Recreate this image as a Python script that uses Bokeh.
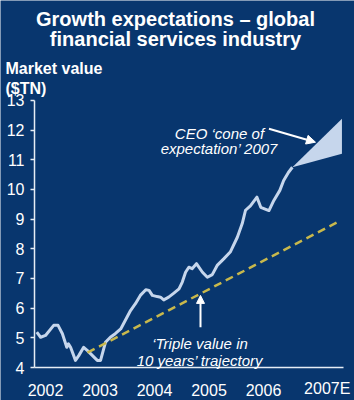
from bokeh.plotting import figure
from bokeh.models import Range1d, FixedTicker, Label, Arrow, NormalHead, LinearAxis
from bokeh.embed import file_html
from bokeh.resources import INLINE

# ---- data ----
years = [2001.84, 2001.91, 2002.00, 2002.15, 2002.23, 2002.31, 2002.39, 2002.42, 2002.46,
         2002.55, 2002.61, 2002.70, 2002.77, 2002.83, 2002.95, 2003.01, 2003.10, 2003.19,
         2003.28, 2003.38, 2003.47, 2003.56, 2003.65, 2003.74, 2003.84, 2003.90, 2003.96,
         2004.05, 2004.11, 2004.17, 2004.26, 2004.35, 2004.45, 2004.51, 2004.57, 2004.63,
         2004.69, 2004.77, 2004.88, 2004.97, 2005.06, 2005.15, 2005.27, 2005.39, 2005.52,
         2005.61, 2005.67, 2005.76, 2005.88, 2005.95, 2006.10, 2006.19, 2006.30, 2006.37,
         2006.46, 2006.53]
market_value = [5.19, 5.02, 5.08, 5.42, 5.42, 5.14, 4.68, 4.80, 4.68,
                4.24, 4.40, 4.68, 4.57, 4.46, 4.24, 4.24, 4.85, 5.02,
                5.14, 5.30, 5.61, 5.92, 6.15, 6.43, 6.62, 6.60, 6.43,
                6.39, 6.37, 6.28, 6.37, 6.50, 6.65, 6.88, 7.21, 7.38,
                7.33, 7.50, 7.21, 7.04, 7.13, 7.44, 7.66, 7.89, 8.39,
                8.85, 9.30, 9.45, 9.74, 9.40, 9.29, 9.63, 9.97, 10.30,
                10.58, 10.75]

cone_years = [2006.53, 2007.44]
cone_upper = [10.75, 12.38]
cone_lower = [10.75, 11.20]

triple_years = [2002.77, 2007.41]
triple_value = [4.50, 8.95]

tick_years = [2002, 2003, 2004, 2005, 2006]
tick_labels = ["2002", "2003", "2004", "2005", "2006"]
last_label = "2007E"
last_label_year = 2007.17
y_ticks = list(range(4, 14))

X_AXIS_START, X_AXIS_END = 2001.798, 2007.468
Y_AXIS_START, Y_AXIS_END = 4, 13

BG = "#08366e"
LINE = "#c6d6ec"
DASH = "#c8b84c"
WHITE = "#ffffff"
AX = "#e6edf5"
FONT = "Liberation Sans"

# the frame covers the whole canvas; the axes are pinned inside it
p = figure(width=354, height=400, output_backend="svg", toolbar_location=None,
           x_range=Range1d(2001.174, 2007.670), y_range=Range1d(2.888, 16.369),
           x_axis_location=None, y_axis_location=None,
           min_border=0)
p.background_fill_color = BG
p.border_fill_color = BG
p.outline_line_color = None
p.grid.visible = False

xaxis = LinearAxis(fixed_location=Y_AXIS_START, bounds=(X_AXIS_START, X_AXIS_END),
                   ticker=FixedTicker(ticks=tick_years),
                   major_label_overrides={t: l for t, l in zip(tick_years, tick_labels)},
                   major_tick_line_color=None, minor_tick_line_color=None,
                   axis_line_color=AX, axis_line_width=1.5,
                   major_label_standoff=10, major_label_text_font=FONT,
                   major_label_text_font_size="16px", major_label_text_color=WHITE)
yaxis = LinearAxis(fixed_location=X_AXIS_START, bounds=(Y_AXIS_START, Y_AXIS_END),
                   ticker=FixedTicker(ticks=y_ticks),
                   major_tick_in=0, major_tick_out=4, major_tick_line_color=AX,
                   major_tick_line_width=1.5, minor_tick_line_color=None,
                   axis_line_color=AX, axis_line_width=1.5,
                   major_label_standoff=6, major_label_text_font=FONT,
                   major_label_text_font_size="16px", major_label_text_color=WHITE)
p.add_layout(xaxis, "below")
p.add_layout(yaxis, "left")

# glyphs
p.varea(x=cone_years, y1=cone_lower, y2=cone_upper, fill_color=LINE)
p.line(years, market_value, line_color=LINE, line_width=3, line_join="round")
p.line(triple_years, triple_value, line_color=DASH, line_width=2.5, line_dash="8 5")

# texts
def lab(x, y, text, size, style="normal", align="center", baseline="alphabetic"):
    p.add_layout(Label(x=x, y=y, text=text, text_font=FONT, text_font_size=size,
                       text_font_style=style, text_color=WHITE, text_align=align,
                       text_baseline=baseline))

lab(2004.385, 15.73, "Growth expectations \u2013 global", "20px", "bold")
lab(2004.385, 15.06, "financial services industry", "20px", "bold")
lab(2001.266, 14.08, "Market value", "16px", "bold", "left")
lab(2001.266, 13.42, "($TN)", "16px", "bold", "left")
lab(2005.192, 11.89, "CEO \u2018cone of", "15px", "italic")
lab(2005.192, 11.38, "expectation\u2019 2007", "15px", "italic")
lab(2004.835, 4.80, "\u2018Triple value in", "15px", "italic")
lab(2004.835, 4.24, "10 years\u2019 trajectory", "15px", "italic")
lab(last_label_year, 3.30, last_label, "16px", baseline="middle")

# arrows
p.add_layout(Arrow(x_start=2006.10, y_start=12.045, x_end=2006.954, y_end=11.594,
                   line_color=WHITE, line_width=2,
                   end=NormalHead(size=9, fill_color=WHITE, line_color=WHITE)))
p.add_layout(Arrow(x_start=2004.844, y_start=5.36, x_end=2004.844, y_end=6.43,
                   line_color=WHITE, line_width=2,
                   end=NormalHead(size=8, fill_color=WHITE, line_color=WHITE)))

open("out.html", "w").write(file_html(p, INLINE))
